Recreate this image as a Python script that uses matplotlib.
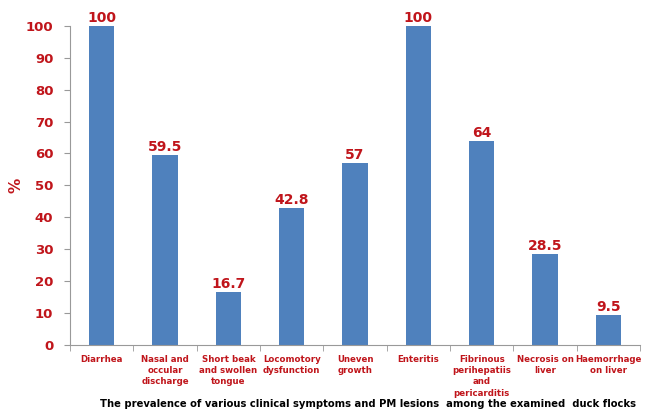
import numpy as np
import matplotlib.pyplot as plt

categories = [
    "Diarrhea",
    "Nasal and\noccular\ndischarge",
    "Short beak\nand swollen\ntongue",
    "Locomotory\ndysfunction",
    "Uneven\ngrowth",
    "Enteritis",
    "Fibrinous\nperihepatiis\nand\npericarditis",
    "Necrosis on\nliver",
    "Haemorrhage\non liver",
]
values = [100, 59.5, 16.7, 42.8, 57, 100, 64, 28.5, 9.5]
value_labels = ["100", "59.5", "16.7", "42.8", "57", "100", "64", "28.5", "9.5"]

RED = "#C0151B"
BLUE = "#4F81BD"

fig = plt.figure(figsize=(6.49, 4.17), dpi=100)
ax = fig.add_axes([0.108, 0.173, 0.878, 0.765])

x = np.arange(len(categories))
ax.bar(x, values, width=0.4, color=BLUE, zorder=2)

for xi, v, lab in zip(x, values, value_labels):
    ax.text(xi, v + 0.3, lab, ha="center", va="bottom", color=RED,
            fontsize=10, fontweight="bold")

ax.set_xlim(-0.5, len(categories) - 0.5)
ax.set_ylim(0, 100)
ax.set_yticks(np.arange(0, 101, 10))
ax.set_xticks(x)
ax.set_xticklabels(categories, fontsize=6.2, fontweight="bold", color=RED,
                   linespacing=1.35)
ax.tick_params(axis="x", which="major", length=0, pad=7)
ax.set_xticks(np.arange(-0.5, len(categories), 1), minor=True)
ax.tick_params(axis="x", which="minor", length=4, color="#999999", direction="out")
ax.tick_params(axis="y", length=4, color="#999999", labelsize=9.5,
               labelcolor=RED, pad=8)
for t in ax.get_yticklabels():
    t.set_fontweight("bold")

for s in ["top", "right"]:
    ax.spines[s].set_visible(False)
for s in ["left", "bottom"]:
    ax.spines[s].set_color("#999999")

fig.text(0.024, 0.556, "%", rotation=90, ha="center", va="center",
         color=RED, fontsize=11, fontweight="bold")

fig.text(0.567, 0.02, "The prevalence of various clinical symptoms and PM lesions  among the examined  duck flocks",
         ha="center", va="bottom", fontsize=7.2, fontweight="bold", color="black")

fig.savefig("out.png", dpi=100)
